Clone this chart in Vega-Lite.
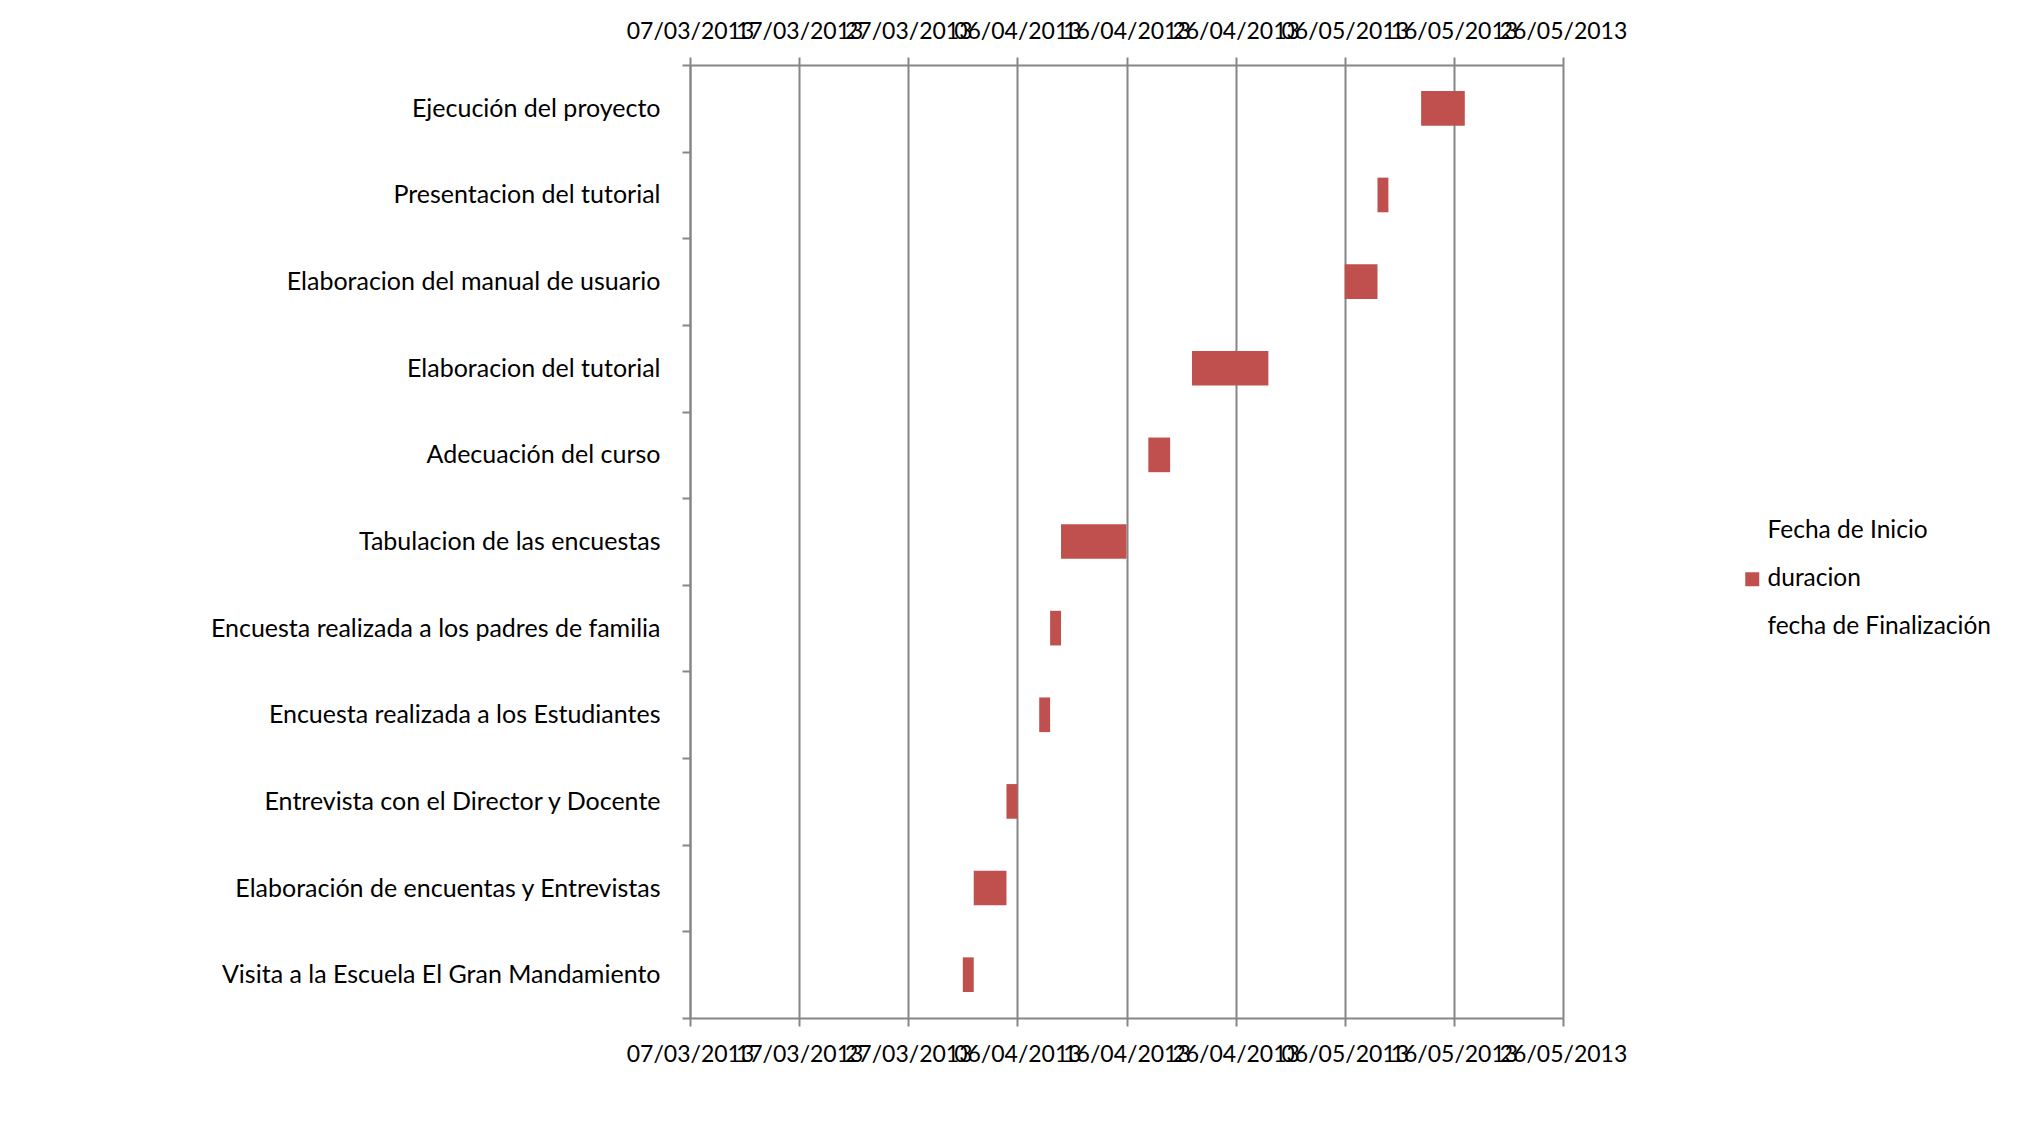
{
  "$schema": "https://vega.github.io/schema/vega-lite/v6.json",
  "autosize": {"type": "none"},
  "width": 873,
  "height": 953,
  "padding": {"left": 690, "top": 65, "right": 470, "bottom": 129},
  "background": "white",
  "config": {
    "view": {"stroke": null},
    "font": "Lato",
    "axis": {"labelFont": "Lato", "labelColor": "#000000", "labelFontSize": 23, "domainColor": "#868686", "tickColor": "#868686", "domainWidth": 2, "tickWidth": 2, "gridColor": "#868686", "gridWidth": 2, "gridOpacity": 1, "title": null}
  },
  "data": {
    "values": [
      {"tarea": "Ejecución del proyecto", "inicio": "2013/05/13", "fin": "2013/05/17", "duracion": 4},
      {"tarea": "Presentacion del tutorial", "inicio": "2013/05/09", "fin": "2013/05/10", "duracion": 1},
      {"tarea": "Elaboracion del manual de usuario", "inicio": "2013/05/06", "fin": "2013/05/09", "duracion": 3},
      {"tarea": "Elaboracion del tutorial", "inicio": "2013/04/22", "fin": "2013/04/29", "duracion": 7},
      {"tarea": "Adecuación del curso", "inicio": "2013/04/18", "fin": "2013/04/20", "duracion": 2},
      {"tarea": "Tabulacion de las encuestas", "inicio": "2013/04/10", "fin": "2013/04/16", "duracion": 6},
      {"tarea": "Encuesta realizada a los padres de familia", "inicio": "2013/04/09", "fin": "2013/04/10", "duracion": 1},
      {"tarea": "Encuesta realizada a los Estudiantes", "inicio": "2013/04/08", "fin": "2013/04/09", "duracion": 1},
      {"tarea": "Entrevista con el Director y Docente", "inicio": "2013/04/05", "fin": "2013/04/06", "duracion": 1},
      {"tarea": "Elaboración de encuentas y Entrevistas", "inicio": "2013/04/02", "fin": "2013/04/05", "duracion": 3},
      {"tarea": "Visita a la Escuela El Gran Mandamiento", "inicio": "2013/04/01", "fin": "2013/04/02", "duracion": 1}
    ]
  },
  "encoding": {
    "y": {
      "field": "tarea", "type": "nominal", "sort": null,
      "scale": {"paddingInner": 0, "paddingOuter": 0},
      "axis": {"tickBand": "extent", "tickSize": 8, "labelPadding": 22, "labelLimit": 650, "labelFontSize": 25, "grid": false}
    }
  },
  "layer": [
    {
      "mark": {"type": "bar", "opacity": 0, "height": {"band": 0.4}},
      "encoding": {
        "x": {
          "field": "inicio", "type": "temporal",
          "scale": {"domain": [{"year": 2013, "month": 3, "date": 7}, {"year": 2013, "month": 5, "date": 26}], "nice": false},
          "axis": {
            "orient": "top", "grid": false, "format": "%d/%m/%Y", "tickSize": 8, "labelPadding": 14, "labelOverlap": false, "labelFlush": false,
            "values": [
              {"year": 2013, "month": 3, "date": 7}, {"year": 2013, "month": 3, "date": 17}, {"year": 2013, "month": 3, "date": 27},
              {"year": 2013, "month": 4, "date": 6}, {"year": 2013, "month": 4, "date": 16}, {"year": 2013, "month": 4, "date": 26},
              {"year": 2013, "month": 5, "date": 6}, {"year": 2013, "month": 5, "date": 16}, {"year": 2013, "month": 5, "date": 26}
            ]
          }
        },
        "x2": {"field": "fin"}
      }
    },
    {
      "mark": {"type": "bar", "height": {"band": 0.4}},
      "encoding": {
        "x": {
          "field": "inicio", "type": "temporal",
          "axis": {
            "orient": "bottom", "grid": true, "format": "%d/%m/%Y", "tickSize": 8, "labelPadding": 17, "labelOverlap": false, "labelFlush": false,
            "values": [
              {"year": 2013, "month": 3, "date": 7}, {"year": 2013, "month": 3, "date": 17}, {"year": 2013, "month": 3, "date": 27},
              {"year": 2013, "month": 4, "date": 6}, {"year": 2013, "month": 4, "date": 16}, {"year": 2013, "month": 4, "date": 26},
              {"year": 2013, "month": 5, "date": 6}, {"year": 2013, "month": 5, "date": 16}, {"year": 2013, "month": 5, "date": 26}
            ]
          }
        },
        "x2": {"field": "fin"},
        "color": {
          "datum": "duracion", "type": "nominal",
          "scale": {"domain": ["Fecha de Inicio", "duracion", "fecha de Finalización"], "range": ["rgba(0,0,0,0)", "#C0504D", "rgba(0,0,0,0)"]},
          "legend": {
            "title": null, "orient": "none", "legendX": 1050, "legendY": 454, "padding": 0,
            "symbolType": "square", "symbolSize": 196, "symbolStrokeWidth": 0,
            "labelFont": "Lato", "labelFontSize": 24.5, "labelColor": "#000000", "labelOffset": 3, "rowPadding": 23, "labelLimit": 400
          }
        }
      }
    }
  ],
  "resolve": {"axis": {"x": "independent"}}
}
